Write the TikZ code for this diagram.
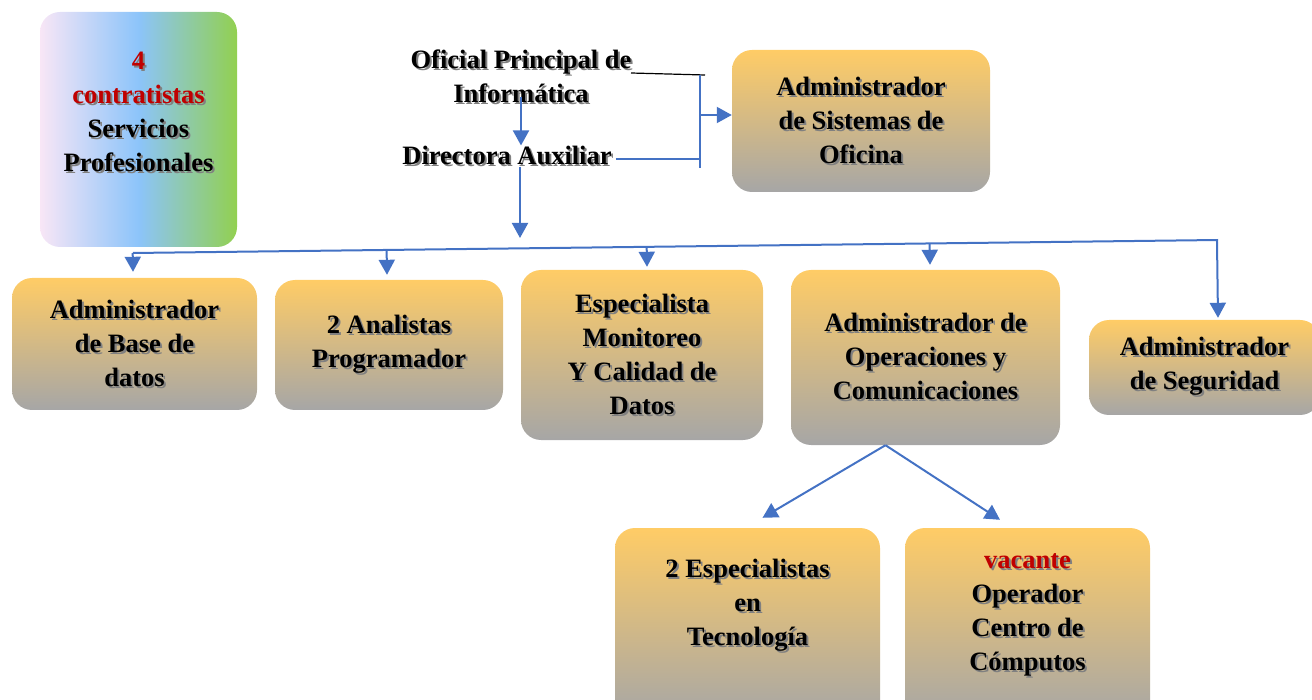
\documentclass[tikz,border=0pt]{standalone}
\usepackage{fontspec}
\setmainfont{Liberation Serif}
\usetikzlibrary{calc,arrows.meta}
\definecolor{azul}{RGB}{68,114,196}
\definecolor{naranja}{RGB}{255,204,102}
\definecolor{gris}{RGB}{166,166,166}
\definecolor{rojo}{RGB}{192,0,0}
\definecolor{rosa}{RGB}{248,230,246}
\definecolor{celeste}{RGB}{140,196,250}
\definecolor{verde}{RGB}{146,208,80}
\newcommand{\sh}[2][black]{\leavevmode\rlap{\kern2pt\raisebox{-2pt}{\textcolor{black!50}{#2}}}\textcolor{#1}{#2}}
\tikzset{
	rotulo/.style={align=center, font=\bfseries\fontsize{26.5}{34}\selectfont, inner sep=0pt},
	puesto/.style={rotulo, rounded corners=20pt, top color=naranja, bottom color=gris},
	enlace/.style={draw=azul, line width=2pt},
	flecha/.style={enlace, -{Triangle[width=16pt,length=15pt]}}
}

\begin{document}
\begin{tikzpicture}[x=1pt,y=-1pt]
			%%%%% START %%%%%
			\useasboundingbox (0,0) rectangle (1312,700);
			
			\node[puesto, minimum width=197pt, minimum height=235pt, left color=rosa, right color=verde, middle color=celeste,
				label={[rotulo,yshift=17pt]center:{\sh[rojo]{4}\\\sh[rojo]{contratistas}\\\sh{Servicios}\\\sh{Profesionales}}}] (cont) at (138.5,129.5) {};
			
			\node[rotulo] (ofi) at (521,77) {\sh{Oficial Principal de}\\\sh{Informática}};
			\node[rotulo] (dir) at (507,156) {\sh{Directora Auxiliar}};
			\node[puesto, minimum width=258pt, minimum height=142pt] (sis) at (861,121) {\sh{Administrador}\\\sh{de Sistemas de}\\\sh{Oficina}};
			
			\node[puesto, minimum width=245pt, minimum height=132pt] (bd) at (134.5,344) {\sh{Administrador}\\\sh{de Base de}\\\sh{datos}};
			\node[puesto, minimum width=228pt, minimum height=130pt] (ana) at (389,345) {\sh{2 Analistas}\\\sh{Programador}};
			\node[puesto, minimum width=242pt, minimum height=170pt] (esp) at (642,355) {\sh{Especialista}\\\sh{Monitoreo}\\\sh{Y Calidad de}\\\sh{Datos}};
			\node[puesto, minimum width=269pt, minimum height=175pt] (ope) at (925.5,357.5) {\sh{Administrador de}\\\sh{Operaciones y}\\\sh{Comunicaciones}};
			\node[puesto, minimum width=231pt, minimum height=95pt] (seg) at (1204.5,367.5) {\sh{Administrador}\\\sh{de Seguridad}};
			
			\node[puesto, minimum width=265pt, minimum height=192pt,
				label={[rotulo,yshift=17.5pt]center:{\sh{2 Especialistas}\\\sh{en}\\\sh{Tecnología}}}] (tec) at (747.5,624) {};
			\node[puesto, minimum width=245pt, minimum height=192pt,
				label={[rotulo,yshift=8.5pt]center:{\sh[rojo]{vacante}\\\sh{Operador}\\\sh{Centro de}\\\sh{Cómputos}}}] (opr) at (1027.5,624) {};
			
			% oficial / directora -> sistemas de oficina
			\coordinate (ofiR) at (631,73);
			\coordinate (jt) at (705,75);
			\coordinate (jb) at (700,168);
			\draw[line width=1.2pt] (ofiR) -- (jt);
			\draw[enlace] (jb |- jt) -- (jb);
			\draw[enlace] ([xshift=4pt,yshift=-3pt]dir.east) -- ([yshift=-3pt]dir.east -| jb);
			\draw[flecha] ([yshift=6pt]sis.west -| jb) -- ([yshift=6pt]sis.west);
			
			\draw[flecha] ([yshift=8pt]ofi.south) -- (ofi.south |- dir.north);
			
			% barra horizontal
			\coordinate (bus) at (520,238);
			\coordinate (busL) at (133,253);
			\coordinate (busR) at (1218,240);
			\draw[flecha] (dir.south -| bus) -- (bus);
			\draw[enlace] (busL) -- (busR);
			\foreach \b/\dx/\dy in {bd/-1.5/6, ana/-2/5, esp/5/3, ope/4.5/5, seg/13.5/2}
				\draw[flecha] ($(busL)!([xshift=\dx pt]\b.north)!(busR)$) -- ([xshift=\dx pt,yshift=\dy pt]\b.north);
			
			% operaciones -> abajo
			\draw[flecha] ([xshift=-40pt]ope.south) -- ([xshift=15pt,yshift=10pt]tec.north);
			\draw[flecha] ([xshift=-40pt]ope.south) -- ([xshift=-27.5pt,yshift=8pt]opr.north);
			
			%%%%% END %%%%%
\end{tikzpicture}
\end{document}
